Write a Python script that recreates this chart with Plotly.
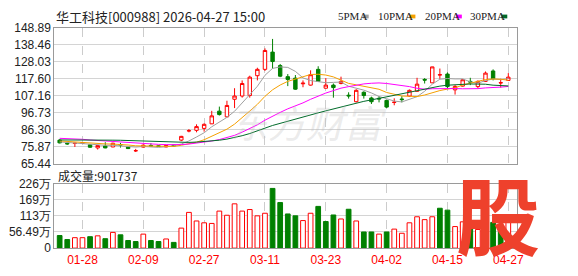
import plotly.graph_objects as go

W, H = 578, 276

dates = ["01-23", "01-26", "01-27", "01-28", "01-29", "01-30", "02-02", "02-03", "02-04", "02-05",
         "02-06", "02-09", "02-10", "02-11", "02-12", "02-13", "02-24", "02-25", "02-26", "02-27",
         "03-02", "03-03", "03-04", "03-05", "03-06", "03-09", "03-10", "03-11", "03-12", "03-13",
         "03-16", "03-17", "03-18", "03-19", "03-20", "03-23", "03-24", "03-25", "03-26", "03-27",
         "03-30", "03-31", "04-01", "04-02", "04-03", "04-07", "04-08", "04-09", "04-10", "04-13",
         "04-14", "04-15", "04-16", "04-17", "04-20", "04-21", "04-22", "04-23", "04-24", "04-27"]

opens = [79.9, 78.0, 77.8, 77.9, 77.0, 75.1, 76.3, 75.7, 77.2, 75.7,
         73.3, 75.6, 76.6, 76.4, 75.7, 76.8, 79.9, 85.5, 85.9, 87.1,
         89.9, 97.7, 94.2, 105.0, 107.0, 107.3, 119.5, 123.4, 134.0, 125.7,
         118.9, 118.0, 114.5, 113.7, 123.4, 111.8, 113.7, 114.7, 107.5, 103.5,
         109.3, 105.8, 105.6, 104.3, 103.0, 105.2, 107.0, 109.9, 117.2, 115.1,
         119.9, 120.5, 110.8, 113.1, 116.0, 112.8, 116.0, 122.4, 115.0, 116.6]
highs = [80.5, 78.6, 78.2, 78.6, 77.3, 76.9, 78.6, 78.3, 78.2, 76.0,
         74.5, 77.2, 78.0, 76.8, 76.9, 77.1, 82.5, 86.7, 89.6, 90.2,
         97.9, 100.5, 104.1, 111.8, 116.6, 119.5, 124.4, 136.3, 142.1, 126.7,
         120.5, 119.9, 116.6, 122.8, 125.3, 118.0, 114.7, 118.9, 109.3, 111.2,
         109.9, 106.6, 107.0, 104.8, 105.6, 106.9, 111.0, 118.2, 118.0, 125.0,
         123.9, 121.5, 113.7, 117.3, 118.2, 116.6, 122.1, 123.4, 117.6, 121.1]
lows = [77.9, 77.0, 75.7, 77.5, 75.2, 74.1, 74.9, 75.5, 75.3, 74.4,
        72.6, 75.3, 76.0, 75.7, 75.5, 76.0, 79.3, 84.7, 84.7, 85.1,
        89.8, 95.0, 94.0, 99.6, 106.0, 106.0, 116.6, 122.4, 123.8, 118.6,
        113.1, 110.8, 112.4, 113.4, 115.7, 111.6, 106.0, 114.2, 105.4, 103.1,
        105.4, 102.1, 103.1, 99.6, 101.3, 103.1, 106.6, 109.6, 114.7, 115.0,
        117.6, 111.4, 107.9, 112.8, 113.7, 111.6, 115.7, 116.6, 112.2, 116.4]
closes = [78.2, 77.6, 78.0, 78.3, 75.5, 76.6, 75.1, 78.0, 76.9, 74.7,
          73.4, 76.8, 76.3, 76.0, 76.6, 76.4, 82.2, 85.7, 88.2, 89.6,
          94.8, 95.6, 101.2, 107.0, 114.7, 118.6, 123.4, 135.0, 128.2, 119.2,
          117.2, 111.2, 114.9, 120.1, 116.0, 113.7, 112.2, 116.0, 107.1, 110.5,
          107.3, 103.5, 105.2, 100.2, 103.2, 104.8, 110.5, 114.3, 116.8, 124.9,
          120.1, 112.8, 112.9, 117.0, 115.6, 116.0, 121.1, 117.6, 115.2, 118.6]
# volume in 万 (10k lots)
volumes_wan = [44, 30, 36.5, 36.5, 40, 43, 33, 55, 46.5, 26.6,
               23, 49, 26.6, 23, 32, 20, 70, 125, 95, 88.6,
               86.4, 129.6, 115, 155, 129.6, 135, 113, 122, 209, 159.5,
               119.6, 113, 96.4, 122, 146, 93, 116, 102, 136, 95,
               56.5, 56.5, 49, 56.5, 66.5, 52, 88.6, 109.7, 99.7, 109.7,
               139.6, 133, 75.4, 92, 80, 65.4, 95, 90, 66.5, 90.17]
# estimated closes of the 29 sessions before the first shown date (feed the moving averages)
prior_closes = [76.5, 77.0, 77.4, 77.8, 78.0, 78.2, 78.5, 78.6, 79.0, 79.0,
                80.5, 82.0, 83.5, 84.0, 83.2, 83.8, 82.6, 82.0, 81.8, 82.6,
                81.2, 80.6, 79.8, 79.5, 78.9, 79.5, 79.0, 78.8, 78.5]

price_ticks = [65.44, 75.87, 86.30, 96.73, 107.16, 117.60, 128.03, 138.46, 148.89]
price_tick_text = ["65.44", "75.87", "86.30", "96.73", "107.16", "117.60", "128.03", "138.46", "148.89"]
vol_ticks = [0, 56.49, 112.98, 169.47, 225.96]
vol_tick_text = ["0", "56.49万", "113万", "169万", "226万"]
date_ticks = ["01-28", "02-09", "02-27", "03-11", "03-23", "04-02", "04-15", "04-27"]
ma_periods = [5, 10, 20, 30]
ma_names = ["5PMA", "10PMA", "20PMA", "30PMA"]
ma_colors = ["#a0a0a0", "#f5a000", "#ff00ff", "#006b2a"]
last_volume = "901737"
title_text = "华工科技[000988] 2026-04-27 15:00"

RED = "#ff0000"
GREEN = "#008000"


def px_x(x):
    return x / W


def px_y(y):
    return 1 - y / H


full = prior_closes + closes
off = len(prior_closes)


def moving_average(n):
    out = []
    for i in range(len(closes)):
        seg = full[off + i - n + 1: off + i + 1]
        out.append(sum(seg) / n)
    return out


vol_up = []
for i, c in enumerate(closes):
    ref = closes[i - 1] if i > 0 else opens[0]
    vol_up.append(c >= ref)

fig = go.Figure()

fig.add_trace(go.Candlestick(
    x=dates, open=opens, high=highs, low=lows, close=closes,
    increasing=dict(line=dict(color=RED, width=1), fillcolor="#ffffff"),
    decreasing=dict(line=dict(color=GREEN, width=1), fillcolor=GREEN),
    whiskerwidth=0, xaxis="x", yaxis="y", showlegend=False, hoverinfo="skip",
))

for n, name, col in zip(ma_periods, ma_names, ma_colors):
    fig.add_trace(go.Scatter(
        x=dates, y=moving_average(n), mode="lines", name=name,
        line=dict(color=col, width=1), xaxis="x", yaxis="y", showlegend=False,
        hoverinfo="skip",
    ))

fig.add_trace(go.Bar(
    x=dates, y=volumes_wan,
    marker=dict(color=["#ffffff" if u else GREEN for u in vol_up],
                line=dict(color=[RED if u else GREEN for u in vol_up], width=1)),
    xaxis="x2", yaxis="y2", showlegend=False, hoverinfo="skip",
))

xdom = [px_x(55), px_x(523)]
xrange = [-0.7, 60.1]
grid_c = "#d4d4d4"
line_c = "#9a9a9a"
tick_font = dict(family="Liberation Sans, Arial, sans-serif", size=12, color="#222222")

common_x = dict(domain=xdom, type="category", categoryorder="array", categoryarray=dates,
                range=xrange, tickmode="array", tickvals=date_ticks, showgrid=True,
                gridcolor="#cccccc", griddash="dash", gridwidth=1, showline=True,
                linecolor=line_c, linewidth=1, mirror=True, zeroline=False, ticks="",
                fixedrange=True)

fig.update_layout(
    width=W, height=H, margin=dict(l=0, r=0, t=0, b=0),
    paper_bgcolor="#ffffff", plot_bgcolor="#ffffff",
    boxgap=0.36, bargap=0.38,
    xaxis=dict(**common_x, anchor="y", showticklabels=False, rangeslider=dict(visible=False)),
    yaxis=dict(domain=[px_y(165), px_y(22)], range=[65.44, 148.89], tickmode="array",
               tickvals=price_ticks, ticktext=price_tick_text, showgrid=True, gridcolor=grid_c,
               gridwidth=1, showline=True, linecolor=line_c, mirror=True, zeroline=False,
               ticks="", tickfont=tick_font, anchor="x", fixedrange=True),
    xaxis2=dict(**common_x, anchor="y2", showticklabels=True,
                tickfont=dict(family="Liberation Sans, Arial, sans-serif", size=12, color=RED)),
    yaxis2=dict(domain=[px_y(254), px_y(186)], range=[0, 225.96], tickmode="array",
                tickvals=vol_ticks, ticktext=vol_tick_text, showgrid=True, gridcolor=grid_c,
                gridwidth=1, showline=True, linecolor=line_c, mirror=True, zeroline=False,
                ticks="", tickfont=tick_font, anchor="x2", fixedrange=True),
    showlegend=False,
)

annotations = []
shapes = []

# faint watermark logo text in the price panel
annotations.append(dict(text="<i>东方财富</i>", x=px_x(312), y=px_y(90), xref="paper", yref="paper",
                        showarrow=False, font=dict(family="Noto Sans CJK SC", size=38,
                                                    color="rgba(190,190,190,0.30)")))

annotations.append(dict(text=title_text, x=px_x(55), y=px_y(10), xref="paper", yref="paper",
                        xanchor="left", yanchor="middle", showarrow=False,
                        font=dict(family="Noto Sans CJK SC", size=13, color="#222222")))

legend_x = [340, 381, 428, 474]
for name, col, lx in zip(ma_names, ma_colors, legend_x):
    annotations.append(dict(text=name, x=px_x(lx), y=px_y(10), xref="paper", yref="paper",
                            xanchor="left", yanchor="middle", showarrow=False,
                            font=dict(family="Liberation Serif, serif", size=11, color="#222222")))
    tw = 6.3 * len(name)
    shapes.append(dict(type="rect", xref="paper", yref="paper",
                       x0=px_x(lx + tw + 2), x1=px_x(lx + tw + 8),
                       y0=px_y(12), y1=px_y(8), fillcolor=col, line=dict(width=0)))

annotations.append(dict(text="成交量:" + last_volume, x=px_x(57), y=px_y(178), xref="paper",
                        yref="paper", xanchor="left", yanchor="middle", showarrow=False,
                        font=dict(family="Noto Sans CJK SC", size=12, color="#222222")))

annotations.append(dict(text="<b>股</b>", x=px_x(504), y=px_y(217), xref="paper", yref="paper",
                        xanchor="center", yanchor="middle", showarrow=False,
                        font=dict(family="Noto Sans CJK SC", size=84, color="#ee412c")))

fig.update_layout(annotations=annotations, shapes=shapes)

fig.write_html("out.html")
